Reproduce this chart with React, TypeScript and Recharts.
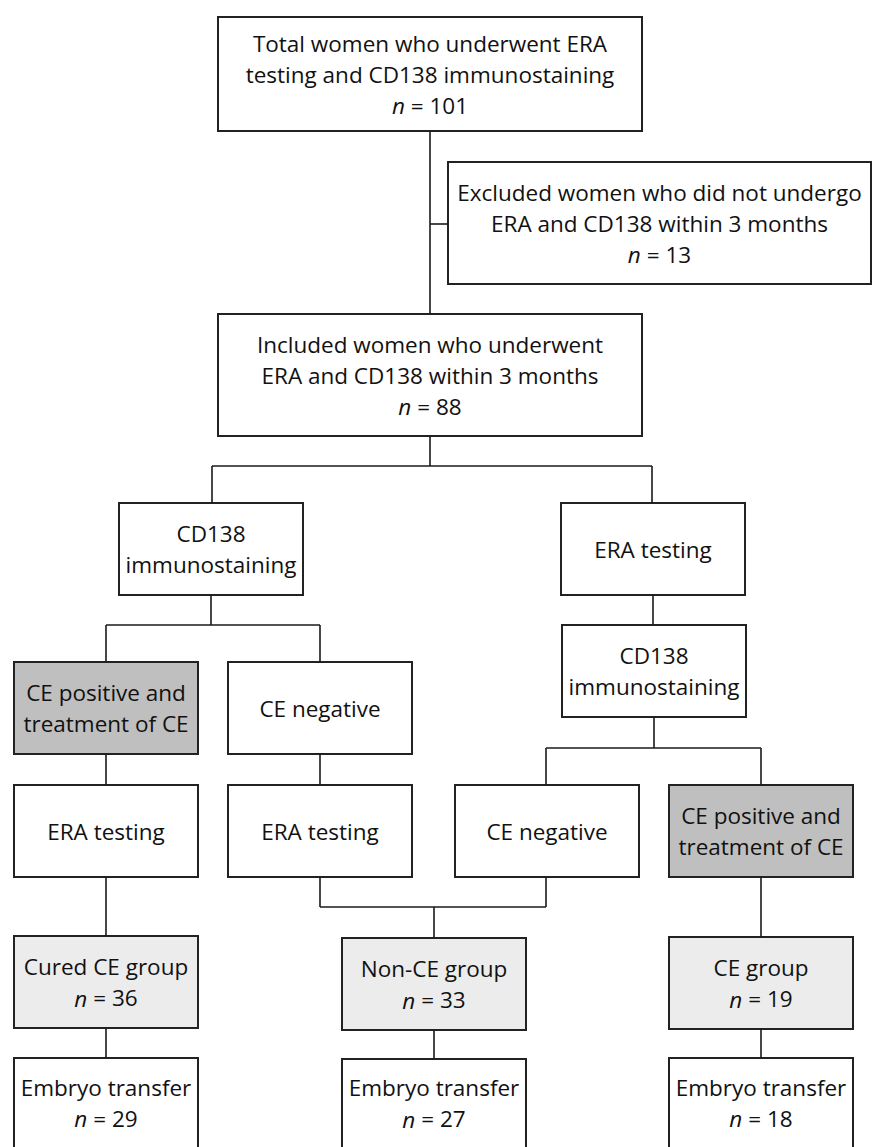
import React from 'react';
import { ScatterChart, Scatter, XAxis, YAxis, ReferenceArea, ReferenceLine } from 'recharts';

// box texts, counts and shading kind (same order everywhere)
const boxLines: string[][] = [
  ['Total women who underwent ERA', 'testing and CD138 immunostaining'],
  ['Excluded women who did not undergo', 'ERA and CD138 within 3 months'],
  ['Included women who underwent', 'ERA and CD138 within 3 months'],
  ['CD138', 'immunostaining'],
  ['ERA testing'],
  ['CE positive and', 'treatment of CE'],
  ['CE negative'],
  ['CD138', 'immunostaining'],
  ['CE negative'],
  ['CE positive and', 'treatment of CE'],
  ['ERA testing'],
  ['ERA testing'],
  ['Cured CE group'],
  ['Non-CE group'],
  ['CE group'],
  ['Embryo transfer'],
  ['Embryo transfer'],
  ['Embryo transfer'],
];
const boxCounts: (number | null)[] = [101, 13, 88, null, null, null, null, null, null, null, null, null, 36, 33, 19, 29, 27, 18];
const boxKind: string[] = [
  'plain', 'plain', 'plain', 'plain', 'plain', 'treated', 'plain', 'plain', 'plain',
  'treated', 'plain', 'plain', 'group', 'group', 'group', 'plain', 'plain', 'plain',
];

// layout: [x1, x2, y1, y2] in page pixels
const boxBounds: number[][] = [
  [218, 642, 17, 131],
  [448, 871, 162, 284],
  [218, 642, 314, 436],
  [119, 303, 503, 595],
  [561, 745, 503, 595],
  [14, 198, 662, 754],
  [228, 412, 662, 754],
  [562, 746, 625, 717],
  [455, 639, 785, 877],
  [669, 853, 785, 877],
  [14, 198, 785, 877],
  [228, 412, 785, 877],
  [14, 198, 936, 1028],
  [342, 526, 938, 1030],
  [669, 853, 937, 1029],
  [14, 198, 1058, 1148],
  [342, 526, 1059, 1148],
  [669, 853, 1058, 1148],
];

// connector segments [x1, y1, x2, y2]
const links: number[][] = [
  [430, 131, 430, 314],
  [430, 224, 448, 224],
  [430, 436, 430, 466],
  [212, 466, 652, 466],
  [212, 466, 212, 503],
  [652, 466, 652, 503],
  [211, 595, 211, 625],
  [106, 625, 320, 625],
  [106, 625, 106, 662],
  [320, 625, 320, 662],
  [653, 595, 653, 625],
  [654, 717, 654, 748],
  [546, 748, 761, 748],
  [546, 748, 546, 785],
  [761, 748, 761, 785],
  [106, 754, 106, 785],
  [320, 754, 320, 785],
  [106, 877, 106, 936],
  [320, 877, 320, 907],
  [546, 877, 546, 907],
  [320, 907, 546, 907],
  [434, 907, 434, 938],
  [761, 877, 761, 937],
  [106, 1028, 106, 1058],
  [434, 1030, 434, 1059],
  [761, 1029, 761, 1058],
];

const W = 872;
const H = 1147;
const LINE_H = 31;
const FONT = '"Open Sans", "Noto Sans", sans-serif';
const fills: Record<string, string> = { plain: '#ffffff', treated: '#bfbfbf', group: '#ececec' };

const centres = boxBounds.map((b, i) => ({
  x: (b[0] + b[1]) / 2,
  y: (b[2] + Math.min(b[3], H)) / 2,
  lines: boxLines[i],
  count: boxCounts[i],
}));

function BoxText(props: any) {
  const { cx, cy, payload } = props;
  const rows: React.ReactNode[] = payload.lines.map((t: string) => t);
  if (payload.count != null) {
    rows.push(
      <>
        <tspan fontStyle="italic">n</tspan> = {payload.count}
      </>
    );
  }
  const k = rows.length;
  return (
    <g>
      {rows.map((r, i) => (
        <text
          key={i}
          x={cx}
          y={cy + (i - (k - 1) / 2) * LINE_H}
          textAnchor="middle"
          dominantBaseline="central"
          fontFamily={FONT}
          fontSize={22.5}
          fill="#111"
        >
          {r}
        </text>
      ))}
    </g>
  );
}

export default function App() {
  return (
    <div style={{ position: 'absolute', left: 0, top: 0, background: '#fff' }}>
      <ScatterChart width={W} height={H} margin={{ top: 0, right: 0, bottom: 0, left: 0 }}>
        <XAxis type="number" dataKey="x" domain={[0, W]} hide />
        <YAxis type="number" dataKey="y" domain={[0, H]} reversed hide />
        {links.map((l, i) => (
          <ReferenceLine
            key={'l' + i}
            segment={[{ x: l[0], y: l[1] }, { x: l[2], y: l[3] }]}
            stroke="#1a1a1a"
            strokeWidth={1.6}
            ifOverflow="visible"
          />
        ))}
        {boxBounds.map((b, i) => (
          <ReferenceArea
            key={'b' + i}
            x1={b[0]}
            x2={b[1]}
            y1={b[2]}
            y2={b[3]}
            fill={fills[boxKind[i]]}
            fillOpacity={1}
            stroke="#222"
            strokeWidth={2}
            ifOverflow="visible"
          />
        ))}
        <Scatter data={centres} shape={<BoxText />} isAnimationActive={false} />
      </ScatterChart>
    </div>
  );
}
